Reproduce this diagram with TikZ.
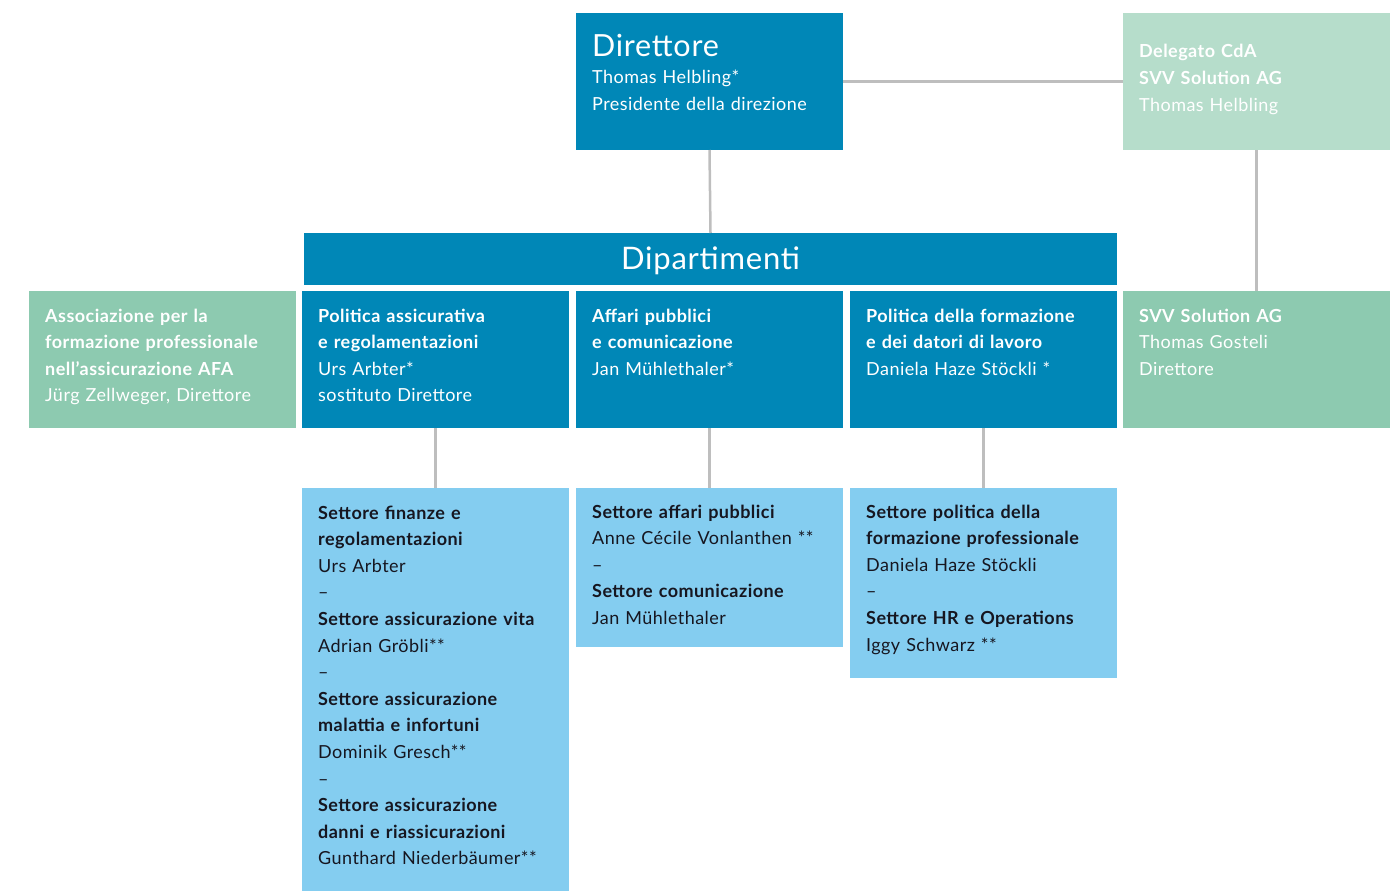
\documentclass[tikz,border=0pt]{standalone}
\usepackage{fontspec}
\setmainfont{Lato}[LetterSpace=2.5]
\usepackage{xcolor}
\definecolor{svvdark}{RGB}{0,135,183}
\definecolor{svvlight}{RGB}{132,205,240}
\definecolor{svvmint}{RGB}{182,221,203}
\definecolor{svvgreen}{RGB}{141,202,176}
\definecolor{svvline}{RGB}{190,190,190}
\definecolor{svvink}{RGB}{22,22,32}
\tikzset{
  orgbox/.style={anchor=north west, inner sep=0pt, outer sep=0pt, minimum width=267pt, minimum height=137pt},
  darkbox/.style={orgbox, fill=svvdark},
  lightbox/.style={orgbox, fill=svvlight},
  mintbox/.style={orgbox, fill=svvmint},
  greenbox/.style={orgbox, fill=svvgreen},
  boxtext/.style={anchor=base west, inner sep=0pt, text width=250pt, align=left, font=\fontsize{18}{26.6}\selectfont},
  link/.style={draw=svvline, line width=2.5pt},
}
\begin{document}
\begin{tikzpicture}[x=1pt,y=1pt,yscale=-1,xscale=1]
\useasboundingbox (0,0) rectangle (1400,891);

% Top row
\node[darkbox] (dir) at (576,13) {};
\node[mintbox] (del) at (1123,13) {};

% Departments bar
\node[orgbox, fill=svvdark, minimum width=813pt, minimum height=52pt] (dip) at (304,233) {};
\node[text=white, font=\fontsize{31}{32}\selectfont] (dip-t) at ([yshift=2]dip.center) {Dipartimenti};

% Second row
\node[greenbox] (afa) at (29,291) {};
\node[darkbox] (pol) at (302,291) {};
\node[darkbox] (aff) at (576,291) {};
\node[darkbox] (form) at (850,291) {};
\node[greenbox] (sol) at (1123,291) {};

% Third row
\node[lightbox, minimum height=403pt] (set1) at (302,488) {};
\node[lightbox, minimum height=159pt] (set2) at (576,488) {};
\node[lightbox, minimum height=190pt] (set3) at (850,488) {};

% Connectors
\draw[link] (dir.east) -- (del.west);
\draw[link] (dir.south) -- (dip.north);
\draw[link] (del.south) -- (sol.north);
\draw[link] (pol.south) -- (set1.north);
\draw[link] (aff.south) -- (set2.north);
\draw[link] (form.south) -- (set3.north);

% Text Node
\node[boxtext, text=white] (dir-t) at ([shift={(16,44)}]dir.north west)
  {{\fontsize{30.5}{26.6}\selectfont Direttore}\\Thomas Helbling*\\Presidente della direzione};
% Text Node
\node[boxtext, text=white] (del-t) at ([shift={(16,45)}]del.north west)
  {\textbf{Delegato CdA}\\\textbf{SVV Solution AG}\\Thomas Helbling};
% Text Node
\node[boxtext, text=white] (afa-t) at ([shift={(16,31)}]afa.north west)
  {\textbf{Associazione per la}\\\textbf{formazione professionale}\\\textbf{nell’assicurazione AFA}\\Jürg Zellweger, Direttore};
% Text Node
\node[boxtext, text=white] (pol-t) at ([shift={(16,31)}]pol.north west)
  {\textbf{Politica assicurativa}\\\textbf{e regolamentazioni}\\Urs Arbter*\\sostituto Direttore};
% Text Node
\node[boxtext, text=white] (aff-t) at ([shift={(16,31)}]aff.north west)
  {\textbf{Affari pubblici}\\\textbf{e comunicazione}\\Jan Mühlethaler*};
% Text Node
\node[boxtext, text=white] (form-t) at ([shift={(16,31)}]form.north west)
  {\textbf{Politica della formazione}\\\textbf{e dei datori di lavoro}\\Daniela Haze Stöckli *};
% Text Node
\node[boxtext, text=white] (sol-t) at ([shift={(16,31)}]sol.north west)
  {\textbf{SVV Solution AG}\\Thomas Gosteli\\Direttore};
% Text Node
\node[boxtext, text=svvink] (set1-t) at ([shift={(16,31)}]set1.north west)
  {\textbf{Settore finanze e}\\\textbf{regolamentazioni}\\Urs Arbter\\–\\\textbf{Settore assicurazione vita}\\Adrian Gröbli**\\–\\\textbf{Settore assicurazione}\\\textbf{malattia e infortuni}\\Dominik Gresch**\\–\\\textbf{Settore assicurazione}\\\textbf{danni e riassicurazioni}\\Gunthard Niederbäumer**};
% Text Node
\node[boxtext, text=svvink] (set2-t) at ([shift={(16,30)}]set2.north west)
  {\textbf{Settore affari pubblici}\\Anne Cécile Vonlanthen **\\–\\\textbf{Settore comunicazione}\\Jan Mühlethaler};
% Text Node
\node[boxtext, text=svvink] (set3-t) at ([shift={(16,30)}]set3.north west)
  {\textbf{Settore politica della}\\\textbf{formazione professionale}\\Daniela Haze Stöckli\\–\\\textbf{Settore HR e Operations}\\Iggy Schwarz **};

\end{tikzpicture}
\end{document}
